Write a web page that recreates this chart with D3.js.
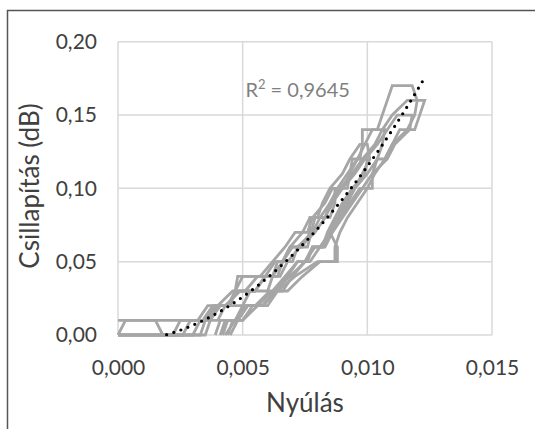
<!DOCTYPE html>
<html>
<head>
<meta charset="utf-8">
<script src="https://cdn.jsdelivr.net/npm/d3@7"></script>
<style>
  body { margin: 0; background: #fff; }
  svg { display: block; font-family: Lato, "Open Sans", sans-serif; }
</style>
</head>
<body>
<svg id="chart" width="535" height="429"></svg>
<script>
// axis ticks
var xTicks = [0, 0.005, 0.01, 0.015];
var yTicks = [0, 0.05, 0.1, 0.15, 0.2];
var xTitle = "Nyúlás";
var yTitle = "Csillapítás (dB)";
var r2Value = "0,9645";

// polynomial trendline (2nd order): a, b, c
var trendCoef = [1162.5, 0.366, -0.0049];

// measured loops (x = strain, y = attenuation dB), load then unload
var run1 = [[0,0.01],[0.0032,0.01],[0.0036,0.02],[0.0044,0.02],[0.0047,0.03],[0.0048,0.04],[0.0062,0.04],[0.0066,0.05],[0.0069,0.06],[0.0074,0.06],[0.0077,0.07],[0.0077,0.08],[0.0085,0.08],[0.0087,0.09],[0.0087,0.10],[0.0092,0.10],[0.0093,0.11],[0.0094,0.12],[0.0097,0.12],[0.0098,0.13],[0.0098,0.14],[0.0104,0.14],[0.0106,0.15],[0.0108,0.16],[0.0110,0.17],[0.0118,0.17],
  [0.0120,0.16],[0.0119,0.15],[0.0116,0.14],[0.0110,0.13],[0.0107,0.12],[0.0103,0.11],[0.0100,0.10],[0.0096,0.09],[0.0092,0.08],[0.0089,0.07],[0.0087,0.06],[0.0087,0.05],[0.0080,0.05],[0.0071,0.04],[0.0064,0.03],[0.0058,0.02],[0.0052,0.02],[0.0048,0.01],[0.0045,0]];
var run2 = [[0,0],[0.0003,0.01],[0.0015,0.01],[0.0018,0],[0.0033,0],[0.0035,0.01],[0.0039,0.02],[0.0050,0.02],[0.0053,0.03],[0.0060,0.03],[0.0064,0.05],[0.0070,0.05],[0.0072,0.06],[0.0078,0.07],[0.0081,0.08],[0.0085,0.09],[0.0089,0.10],[0.0094,0.11],[0.0098,0.12],[0.0103,0.13],[0.0106,0.14],[0.0110,0.15],[0.0116,0.16],[0.0123,0.16],
  [0.0119,0.14],[0.0113,0.14],[0.0110,0.13],[0.0107,0.12],[0.0104,0.12],[0.0102,0.11],[0.0102,0.10],[0.0097,0.10],[0.0093,0.09],[0.0089,0.08],[0.0085,0.07],[0.0081,0.06],[0.0077,0.05],[0.0072,0.05],[0.0068,0.04],[0.0063,0.03],[0.0058,0.02],[0.0052,0.02],[0.0048,0.01],[0.0044,0.01],[0.0042,0]];
var run3 = [[0,0],[0.0022,0],[0.0025,0.01],[0.0036,0.01],[0.0040,0.02],[0.0046,0.03],[0.0051,0.03],[0.0056,0.04],[0.0065,0.04],[0.0068,0.05],[0.0073,0.06],[0.0079,0.07],[0.0083,0.08],[0.0086,0.09],[0.0090,0.10],[0.0095,0.11],[0.0099,0.12],[0.0104,0.13],[0.0108,0.14],[0.0112,0.15],[0.0118,0.15],
  [0.0117,0.14],[0.0111,0.13],[0.0108,0.12],[0.0102,0.11],[0.0098,0.10],[0.0094,0.09],[0.0090,0.08],[0.0086,0.07],[0.0083,0.06],[0.0079,0.06],[0.0075,0.05],[0.0069,0.04],[0.0063,0.03],[0.0058,0.02],[0.0051,0.02],[0.0047,0.01],[0.0041,0.01],[0.0039,0]];
var run4 = [[0,0],[0.0026,0],[0.0029,0.01],[0.0034,0.01],[0.0038,0.02],[0.0044,0.02],[0.0048,0.03],[0.0055,0.03],[0.0059,0.04],[0.0064,0.04],[0.0066,0.05],[0.0070,0.06],[0.0076,0.06],[0.0079,0.08],[0.0083,0.08],[0.0085,0.09],[0.0088,0.10],[0.0092,0.11],[0.0096,0.12],[0.0099,0.13],[0.0102,0.14],[0.0107,0.14],
  [0.0106,0.13],[0.0104,0.12],[0.0100,0.11],[0.0095,0.10],[0.0092,0.09],[0.0088,0.08],[0.0085,0.07],[0.0082,0.06],[0.0078,0.06],[0.0076,0.05],[0.0072,0.05],[0.0067,0.04],[0.0062,0.03],[0.0056,0.02],[0.0050,0.01],[0.0043,0.01],[0.0041,0]];
var run5 = [[0,0],[0.0030,0],[0.0033,0.01],[0.0040,0.01],[0.0043,0.02],[0.0049,0.03],[0.0055,0.03],[0.0059,0.04],[0.0063,0.05],[0.0066,0.05],[0.0069,0.06],[0.0074,0.07],[0.0077,0.08],[0.0080,0.08],[0.0082,0.09],[0.0085,0.10],[0.0090,0.11],[0.0093,0.12],[0.0097,0.13],[0.0100,0.13],
  [0.0101,0.12],[0.0098,0.11],[0.0095,0.10],[0.0091,0.09],[0.0088,0.08],[0.0085,0.07],[0.0088,0.06],[0.0088,0.05],[0.0081,0.05],[0.0074,0.04],[0.0068,0.03],[0.0064,0.03],[0.0060,0.02],[0.0054,0.02],[0.0050,0.01],[0.0046,0.01],[0.0044,0]];
var run6 = [[0,0],[0.0035,0],[0.0037,0.01],[0.0041,0.02],[0.0045,0.02],[0.0047,0.03],[0.0050,0.04],[0.0057,0.04],[0.0062,0.05],[0.0067,0.06],[0.0071,0.07],[0.0076,0.07],[0.0078,0.08],[0.0083,0.09],[0.0086,0.10],[0.0090,0.10],[0.0093,0.11],[0.0096,0.12],[0.0100,0.12],
  [0.0099,0.11],[0.0094,0.10],[0.0090,0.09],[0.0087,0.08],[0.0084,0.07],[0.0082,0.06],[0.0078,0.06],[0.0075,0.05],[0.0070,0.04],[0.0066,0.03],[0.0061,0.03],[0.0055,0.02],[0.0050,0.02],[0.0047,0.01],[0.0043,0]];

var runs = [run1, run2, run3, run4, run5, run6];

var svg = d3.select("#chart"),
  margin = { top: 41.7, right: 43, bottom: 94, left: 118 },
  width = +svg.attr("width") - margin.left - margin.right,
  height = +svg.attr("height") - margin.top - margin.bottom;

// outer frame (left + top only visible)
svg.append("path")
  .attr("d", "M7.5,429V10.5H535")
  .attr("fill", "none")
  .attr("stroke", "#555")
  .attr("stroke-width", 1.5);

var g = svg.append("g")
  .attr("transform", "translate(" + margin.left + "," + margin.top + ")");

var x = d3.scaleLinear().domain([0, 0.015]).range([0, width]);
var y = d3.scaleLinear().domain([0, 0.2]).range([height, 0]);

var comma = function (f) {
  return function (d) { return d3.format(f)(d).replace(".", ","); };
};

// gridlines
g.append("g")
  .selectAll("line")
  .data(xTicks)
  .enter()
  .append("line")
  .attr("x1", (d) => x(d))
  .attr("x2", (d) => x(d))
  .attr("y1", 0)
  .attr("y2", height)
  .attr("stroke", "#d9d9d9")
  .attr("stroke-width", 1.5);

g.append("g")
  .selectAll("line")
  .data(yTicks)
  .enter()
  .append("line")
  .attr("x1", 0)
  .attr("x2", width)
  .attr("y1", (d) => y(d))
  .attr("y2", (d) => y(d))
  .attr("stroke", "#d9d9d9")
  .attr("stroke-width", 1.5);

// axes (labels only)
var xAxis = g.append("g")
  .attr("transform", "translate(0," + height + ")")
  .call(d3.axisBottom(x).tickValues(xTicks).tickSize(0).tickPadding(25).tickFormat(comma(".3f")));
var yAxis = g.append("g")
  .call(d3.axisLeft(y).tickValues(yTicks).tickSize(0).tickPadding(21).tickFormat(comma(".2f")));

[xAxis, yAxis].forEach(function (a) {
  a.select(".domain").remove();
  a.selectAll("text")
    .attr("fill", "#404040")
    .style("font-size", "21px")
    .style("font-family", "Lato, sans-serif");
});

// data lines
var line = d3.line()
  .x((d) => x(d[0]))
  .y((d) => y(d[1]));

g.append("g")
  .selectAll("path")
  .data(runs)
  .enter()
  .append("path")
  .attr("d", line)
  .attr("fill", "none")
  .attr("stroke", "#a6a6a6")
  .attr("stroke-width", 2.8)
  .attr("stroke-linejoin", "miter");

// trendline over the data x range, clipped at the axis minimum
var pts = [].concat.apply([], runs);
var xMax = d3.max(pts, (d) => d[0]);
var trend = d3.range(0, xMax + 1e-9, 0.00005).map(function (u) {
  return [u, trendCoef[0] * u * u + trendCoef[1] * u + trendCoef[2]];
}).filter((d) => d[1] >= 0);

g.append("path")
  .datum(trend)
  .attr("d", line)
  .attr("fill", "none")
  .attr("stroke", "#000")
  .attr("stroke-width", 3.2)
  .attr("stroke-linecap", "round")
  .attr("stroke-dasharray", "0,7.5");

// R² label
var r2 = g.append("text")
  .attr("x", x(0.00511))
  .attr("y", 55)
  .attr("fill", "#7f7f7f")
  .style("font-size", "20px");
r2.append("tspan").text("R");
r2.append("tspan").attr("dy", -8).style("font-size", "13px").text("2");
r2.append("tspan").attr("dy", 8).text(" = " + r2Value);

// titles
svg.append("text")
  .attr("x", margin.left + width / 2)
  .attr("y", 412)
  .attr("text-anchor", "middle")
  .attr("fill", "#404040")
  .style("font-size", "26px")
  .text(xTitle);

svg.append("text")
  .attr("transform", "translate(39,186) rotate(-90)")
  .attr("text-anchor", "middle")
  .attr("fill", "#404040")
  .style("font-size", "26px")
  .text(yTitle);
</script>
</body>
</html>
